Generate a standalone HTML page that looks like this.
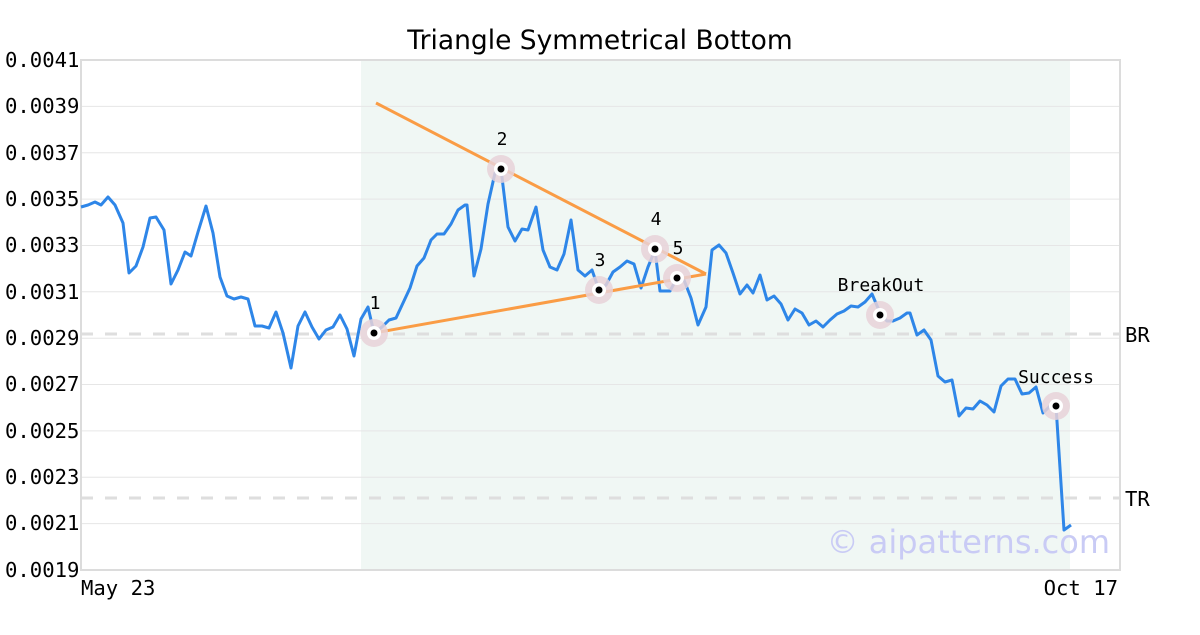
<!DOCTYPE html>
<html><head><meta charset="utf-8"><style>body{margin:0;background:#fff}</style></head><body>
<svg width="1200" height="630" xmlns="http://www.w3.org/2000/svg" font-family="DejaVu Sans Mono, Liberation Mono, monospace">
<rect width="1200" height="630" fill="#fff"/>
<rect x="361" y="61" width="709" height="509" fill="#f0f7f4"/>
<g stroke="#e6e6e6" stroke-width="1">
<line x1="81" y1="106.4" x2="1120" y2="106.4"/><line x1="81" y1="152.7" x2="1120" y2="152.7"/>
<line x1="81" y1="199.1" x2="1120" y2="199.1"/><line x1="81" y1="245.5" x2="1120" y2="245.5"/>
<line x1="81" y1="291.8" x2="1120" y2="291.8"/><line x1="81" y1="338.2" x2="1120" y2="338.2"/>
<line x1="81" y1="384.5" x2="1120" y2="384.5"/><line x1="81" y1="430.9" x2="1120" y2="430.9"/>
<line x1="81" y1="477.3" x2="1120" y2="477.3"/><line x1="81" y1="523.6" x2="1120" y2="523.6"/>
</g>
<g stroke="#dedede" stroke-width="3" stroke-dasharray="12,12">
<line x1="81" y1="334" x2="1120" y2="334"/><line x1="81" y1="498" x2="1120" y2="498"/>
</g>
<rect x="81" y="60" width="1039" height="510" fill="none" stroke="#dcdcdc" stroke-width="2"/>
<text x="600" y="49" text-anchor="middle" font-family="DejaVu Sans, sans-serif" font-size="26.5">Triangle Symmetrical Bottom</text>
<g font-size="20.6" fill="#000">
<text x="5" y="67">0.0041</text><text x="5" y="113">0.0039</text><text x="5" y="160">0.0037</text>
<text x="5" y="206">0.0035</text><text x="5" y="252">0.0033</text><text x="5" y="299">0.0031</text>
<text x="5" y="345">0.0029</text><text x="5" y="391">0.0027</text><text x="5" y="438">0.0025</text>
<text x="5" y="484">0.0023</text><text x="5" y="530">0.0021</text><text x="5" y="577">0.0019</text>
<text x="81" y="595">May 23</text><text x="1118" y="595" text-anchor="end">Oct 17</text>
<text x="1125" y="342">BR</text><text x="1125" y="506">TR</text>
</g>
<text x="1110" y="553" text-anchor="end" font-family="DejaVu Sans, sans-serif" font-size="32" fill="#c9cbf5">© aipatterns.com</text>
<polyline fill="none" stroke="#2e86e8" stroke-width="3" stroke-linejoin="round" points="81,207 88,205 95,202 101,205 108,197 115,205 123,223 129,273 136,266 143,247 150,218 156,217 164,230 171,284 178,270 185,252 191,256 198,232 206,206 213,233 220,277 227,296 234,299 241,297 248,299 255,326 262,326 269,328 276,312 283,333 291,368 298,326 305,312 312,327 319,339 326,330 333,327 340,315 347,329 354,356 361,319 368,307 374,333 382,327 389,320 396,318 403,303 410,288 417,266 424,258 431,240 437,234 444,234 451,224 458,210 465,205 467,205 474,276 481,249 488,204 495,173 501,169 508,227 515,241 522,229 528,230 536,207 543,250 550,267 557,270 564,254 571,220 578,270 585,276 592,270 599,290 606,285 613,272 620,267 627,261 634,264 641,288 648,267 655,250 660,291 664,291 670,291 677,278 684,280 691,298 698,325 706,307 712,250 719,245 726,253 733,273 740,294 747,285 753,293 760,275 767,300 774,296 781,304 788,320 795,309 802,313 809,325 816,321 823,327 830,320 837,314 844,311 851,306 858,307 865,302 872,294 881,315 887,321 893,321 900,318 907,313 910,313 917,335 924,330 931,340 938,376 945,382 952,380 959,416 966,408 973,409 980,401 987,405 994,412 1001,386 1008,379 1015,379 1022,394 1029,393 1036,387 1043,413 1050,406 1056,406 1064,530 1071,525"/>
<g stroke="#fa9c45" stroke-width="3" fill="none">
<line x1="376" y1="103" x2="706" y2="274"/><line x1="374" y1="333" x2="706" y2="274"/>
</g>
<g>
<g fill="#e8d2d8" opacity="0.85">
<circle cx="374" cy="333" r="14"/><circle cx="501" cy="169" r="14"/><circle cx="599" cy="290" r="14"/>
<circle cx="655" cy="249" r="14"/><circle cx="677" cy="278" r="14"/><circle cx="880" cy="315" r="14"/><circle cx="1056" cy="406" r="14"/>
</g>
<g fill="#fff">
<circle cx="374" cy="333" r="7"/><circle cx="501" cy="169" r="7"/><circle cx="599" cy="290" r="7"/>
<circle cx="655" cy="249" r="7"/><circle cx="677" cy="278" r="7"/><circle cx="880" cy="315" r="7"/><circle cx="1056" cy="406" r="7"/>
</g>
<g fill="#000">
<circle cx="374" cy="333" r="3.5"/><circle cx="501" cy="169" r="3.5"/><circle cx="599" cy="290" r="3.5"/>
<circle cx="655" cy="249" r="3.5"/><circle cx="677" cy="278" r="3.5"/><circle cx="880" cy="315" r="3.5"/><circle cx="1056" cy="406" r="3.5"/>
</g>
</g>
<g font-size="18" fill="#000" text-anchor="middle">
<text x="375" y="309">1</text><text x="502" y="145">2</text><text x="600" y="266">3</text>
<text x="656" y="225">4</text><text x="678" y="254">5</text><text x="881" y="291">BreakOut</text><text x="1056" y="383">Success</text>
</g>
</svg>
</body></html>
